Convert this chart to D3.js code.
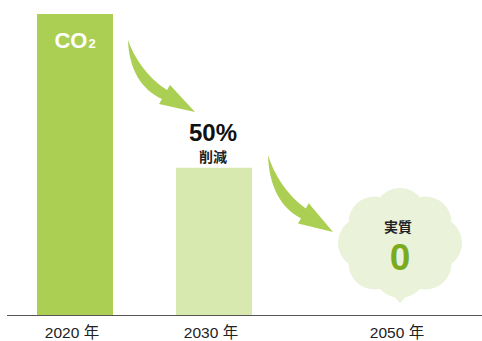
<!DOCTYPE html>
<html>
<head>
<meta charset="utf-8">
<script src="https://cdn.jsdelivr.net/npm/d3@7"></script>
<style>
  body { margin: 0; background: #fff; }
  text { font-family: "Liberation Sans", Arial, "Noto Sans CJK JP", sans-serif; }
</style>
</head>
<body>
<svg id="chart"></svg>
<script>
// chart data
const years = ["2020", "2030", "2050"];
const emissions = [100, 49, 0];
const yearLabels = ["2020 年", "2030 年", "2050 年"];
const reductionLabel = ["50%", "削減"];
const netZeroLabel = ["実質", "0"];

const width = 482, height = 341;
const baseY = 315.5;

const svg = d3.select("#chart")
  .attr("width", width)
  .attr("height", height);

// category centres are not evenly spaced in the original
const x = d3.scaleOrdinal().domain(years).range([75, 214, 400]);
const y = d3.scaleLinear().domain([0, 100]).range([baseY, 14]);
const barW = 76;
const barColors = ["#abcf52", "#d8e9b0"];

// bars
svg.selectAll(".bar")
  .data(years.slice(0, 2))
  .enter().append("rect")
  .attr("class", "bar")
  .attr("x", d => x(d) - barW / 2)
  .attr("y", (d, i) => y(emissions[i]))
  .attr("width", barW)
  .attr("height", (d, i) => baseY - y(emissions[i]))
  .attr("fill", (d, i) => barColors[i]);

// baseline
svg.append("line")
  .attr("x1", 7).attr("x2", width)
  .attr("y1", baseY).attr("y2", baseY)
  .attr("stroke", "#555")
  .attr("stroke-width", 1);

// year labels
svg.selectAll(".year")
  .data(yearLabels)
  .enter().append("text")
  .attr("class", "year")
  .attr("x", (d, i) => x(years[i]) - 3)
  .attr("y", 338)
  .attr("text-anchor", "middle")
  .attr("font-size", "15.5px")
  .attr("fill", "#222")
  .text(d => d);

// CO2 label inside first bar
const co2 = svg.append("text")
  .attr("x", x("2020"))
  .attr("y", 48)
  .attr("text-anchor", "middle")
  .attr("font-weight", "bold")
  .attr("font-size", "22px")
  .attr("fill", "#fff");
co2.append("tspan").text("CO");
co2.append("tspan").attr("font-size", "13px").attr("dx", 1).text("2");

// 50% reduction label
svg.append("text")
  .attr("x", x("2030") - 1)
  .attr("y", 141)
  .attr("text-anchor", "middle")
  .attr("font-weight", "bold")
  .attr("font-size", "24px")
  .attr("fill", "#111")
  .text(reductionLabel[0]);
svg.append("text")
  .attr("x", x("2030") - 1)
  .attr("y", 162)
  .attr("text-anchor", "middle")
  .attr("font-weight", "bold")
  .attr("font-size", "14px")
  .attr("fill", "#222")
  .text(reductionLabel[1]);

// curved arrows
const arrowPath = "M0,0 C6,18 20,38 39,50 L42,45 L67,72 L31,64 L34,59 C14,50 1,30 0,0 Z";
const arrows = [[128, 40], [268, 155]];
svg.selectAll(".arrow")
  .data(arrows)
  .enter().append("path")
  .attr("class", "arrow")
  .attr("d", arrowPath)
  .attr("transform", (d, i) => `translate(${d[0]},${d[1]})` + (i === 1 ? " scale(0.97,1.07)" : ""))
  .attr("fill", "#abcf52");

// net zero cloud
const cx = x("2050"), cy = 243;
const cloud = svg.append("g").attr("fill", "#eaf3d9");
cloud.append("ellipse").attr("cx", cx).attr("cy", cy).attr("rx", 46).attr("ry", 40);
d3.range(8).forEach(k => {
  const a = k * Math.PI / 4;
  cloud.append("circle")
    .attr("cx", cx + 36 * Math.cos(a))
    .attr("cy", cy + 29 * Math.sin(a))
    .attr("r", 26);
});
cloud.append("path")
  .attr("d", `M${cx - 7},${cy + 52} L${cx},${cy + 60} L${cx + 7},${cy + 52} Z`);

svg.append("text")
  .attr("x", cx - 2)
  .attr("y", 232)
  .attr("text-anchor", "middle")
  .attr("font-weight", "bold")
  .attr("font-size", "14px")
  .attr("fill", "#222")
  .text(netZeroLabel[0]);
svg.append("text")
  .attr("x", cx)
  .attr("y", 270)
  .attr("text-anchor", "middle")
  .attr("font-weight", "bold")
  .attr("font-size", "37px")
  .attr("fill", "#7aab1e")
  .text(netZeroLabel[1]);
</script>
</body>
</html>
